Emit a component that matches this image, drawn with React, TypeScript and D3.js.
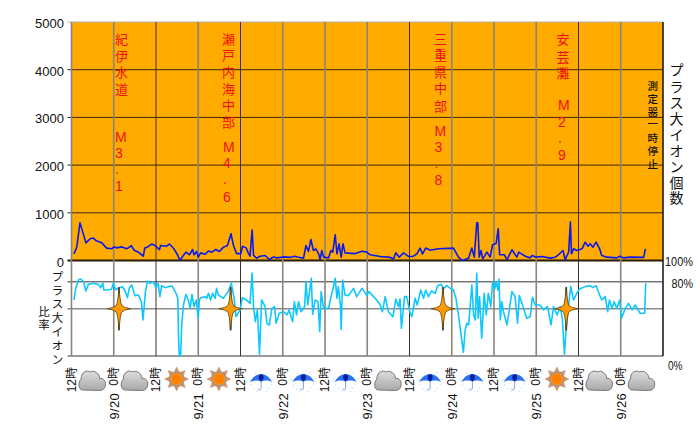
import React from "react";
import * as d3 from "d3";

const ionHours = [0.7,1.5,2.4,3.2,4.1,5.3,6.2,7,8.6,10,11.4,12.1,12.8,14.3,15.7,17,17.8,19,20.4,20.8,21.5,22.8,23.7,25,25.3,27,27.8,29.1,30.1,30.8,31.6,32.5,33.5,34.4,34.8,35.5,36,36.7,37.9,38.9,39.8,41,42,43.1,44.3,45.3,46,46.9,48.1,48.6,49.6,50.2,50.7,51.3,51.7,52.6,53.6,55,56.2,57.4,58.3,60.2,62.1,63.3,64.5,65.9,66.6,67.3,68,68.7,69.4,70.2,70.6,71.1,71.6,73,73.7,74.2,74.9,75.4,76,76.6,77.1,77.7,80.6,82.5,83.9,84.8,87.7,90.5,91.5,92.1,93.1,94.3,95.7,97.1,98.1,99,99.7,100.6,101.9,104.2,108.5,109.9,110.9,111.3,112.8,113.7,114.4,115.1,115.4,115.8,116.3,116.8,118,118.9,119.6,120.6,121.2,121.6,122.9,123.7,125.1,126.5,127,128.9,130.3,130.8,132,133.6,136,137.4,138.3,139.6,140.2,141.2,141.7,142,142.6,143.5,145,145.9,146.7,147.3,148.1,149,150,150.6,152.1,154.9,155.7,156.8,158.7,162.5,163];
const ionValues = [140,280,790,595,370,455,470,415,370,260,245,285,265,285,245,310,215,175,90,260,280,345,315,230,315,300,345,245,120,0,90,175,120,230,120,190,70,160,130,200,175,230,190,275,315,560,315,145,145,300,265,160,90,640,105,50,90,105,20,75,55,75,65,90,70,50,315,190,440,210,245,140,20,210,70,55,210,175,540,140,350,70,350,160,145,195,175,120,85,65,35,160,70,160,85,90,140,260,140,260,215,245,260,70,5,5,50,260,70,790,790,70,210,35,175,70,330,355,665,120,120,20,225,70,175,90,55,105,70,85,50,70,120,210,20,175,805,140,245,210,245,385,300,350,280,385,245,105,70,55,90,55,70,65,245];

const ratioHours = [0.7,1.2,2,2.6,3.4,4.1,4.8,6.2,7.6,8.3,8.9,9.2,10.5,11.4,11.9,12.5,13.3,14.5,15.2,15.9,16.4,17.1,18,19,19.9,20.3,20.6,21,21.6,22.3,23.2,24,24.6,25.1,25.6,26.6,28.5,29.7,30.2,30.4,30.6,31,31.3,31.8,32.5,33.2,33.7,34.2,34.8,35.4,36,36.3,36.7,37.9,38.4,38.9,39.5,40.1,40.8,41.2,41.7,43.1,44.5,45.4,46.2,46.7,47.9,48.5,49.7,50.7,51.3,51.7,52.2,52.8,53.4,54,55,55.5,56.2,56.9,57.7,58.1,59,60.2,61.2,61.8,62.8,63.3,63.9,64.5,65.2,66.2,66.6,67.1,67.5,68.1,68.5,69.2,70,70.5,70.9,71.6,73,73.7,74.2,74.9,75.4,75.8,76.4,76.6,77,77.7,78.7,80.1,81,82.5,83.9,84.5,85.8,86.7,87.7,88.3,89.1,90,91.3,92.1,92.9,93.3,93.7,94.6,95.2,96.2,96.7,97.6,98.2,99.2,100,100.6,101.4,102.2,103.3,104,105,105.7,106.6,107.6,108.5,109.2,110.1,111.3,111.8,112.3,112.8,113.7,114.2,114.7,115.1,115.5,115.9,116.5,117.2,117.8,118.4,119.1,119.6,120.2,120.6,121.1,121.4,121.8,122.2,122.7,123.7,125.1,126,126.7,127.2,128.4,129.3,130.3,130.9,131.7,133.1,134.1,135.2,136.2,136.9,137.9,138.8,139.4,140,140.5,141.2,141.8,142.6,143.5,144.3,145.9,147.3,148.1,149,150,150.6,151.6,152.3,152.8,153.5,154.1,154.9,155.7,156.2,157.3,158.2,159.2,160.1,161.5,162.8,163.1];
const ratioValues = [59.3,71.6,80.8,81.5,78.7,68.8,75.8,76.9,75.8,72.3,76.9,69.8,69.8,70.9,76.9,70.2,71.6,73.4,68.8,61.7,71.6,75.1,63.9,64.6,56.8,38.1,50.4,68.1,79.4,76.9,78.7,72.3,76.9,62.8,74.4,72.3,74.4,66.3,61,20.5,0.4,0.4,32.8,54,65.3,59.3,50.4,65.3,52.2,59.3,39.9,59.3,61.7,62.8,61,66.3,59.3,66.3,61,71.6,64.6,61,68.1,76.9,61,41.6,48.7,61.7,59.3,55.7,87.8,52.2,36.3,48.7,1.8,59.3,52.2,34.6,32.8,50.4,52.2,34.6,45.2,46.9,43.4,48.7,36.3,57.5,43.4,57.5,46.9,52.2,78.7,54,64.6,82.2,44.1,59.3,57.5,25.8,68.1,50.4,50.4,62.8,69.8,82.2,61,73.4,52.2,28.2,80.4,64.6,63.9,71.6,62.8,71.6,63.9,68.1,62.8,59.3,54,46.9,62.8,46.9,41.6,60.3,52.2,60.3,29.3,62.8,62.8,45.2,41.6,61,54,69.8,61,69.8,62.8,68.8,66.3,74.4,75.8,71.6,74.4,71.6,69.8,61,38.1,3.9,27.5,34.6,32.8,75.1,43.4,38.1,87.5,39.9,62.8,18.7,66.3,43.4,66.3,52.2,78.7,70.9,78.7,69.8,81.5,38.1,57.5,46.9,32.8,68.1,62.8,34.6,63.9,50.4,39.9,41.6,62.1,54,54,48.7,52.2,32.8,52.2,43.4,52.2,39.9,1.8,29.3,54,73.4,59.3,66.3,70.9,73.4,74.4,72.3,74.4,64.6,59.3,62.8,46.9,59.3,50.4,57.5,50.4,59.3,39.9,50.4,55.7,48.7,54,45.2,45.2,76.9];

const ionTicks = [0, 1000, 2000, 3000, 4000, 5000];
const ratioGrid = [50, 78.5];
const timeTicks = [0,12,24,36,48,60,72,84,96,108,120,132,144,156,168];
const darkTimes = [24,48,96,144];
const timeLabels = ["12時","0時","12時","0時","12時","0時","12時","0時","12時","0時","12時","0時","12時","0時"];
const dateHours = [12,36,60,84,108,132,156];
const dateLabels = ["9/20","9/21","9/22","9/23","9/24","9/25","9/26"];
const weather = ["cloud","cloud","sun","sun","rain","rain","rain","cloud","rain","rain","rain","sun","cloud","cloud"];
const quakeHours = [13.5,45.2,105.5,140.5];

type Col = { text: string; x: number; ys: number[] };
const placeLabels: Col[] = [
  { text: "紀伊水道", x: 115, ys: [39,56,72.7,89] },
  { text: "瀬戸内海中部", x: 222, ys: [39,55.7,72,89,105.5,122] },
  { text: "三重県中部", x: 434, ys: [39,55.7,72.7,88,106] },
  { text: "安芸灘", x: 556.5, ys: [39,57,73] },
];
const magLabels: Col[] = [
  { text: "M3.1", x: 115, ys: [136.5,152.5,169,186] },
  { text: "M4.6", x: 223, ys: [146.7,162.7,179,196.7] },
  { text: "M3.8", x: 434.5, ys: [130.7,146.7,163,180] },
  { text: "M2.9", x: 558, ys: [105,121.5,138,155] },
];
const stopText = "測定器一時停止";
const stopY = [86,99,111.7,124.3,137.7,151,164];
const axisText = "プラス大イオン個数";
const axisY = [70,86.7,103,119.3,135,150.7,166.7,182.7,198.3];
const ratioText = "プラス大イオン";
const ratioY = [277,290.5,304,317.5,331.7,346,359.5];
const ratioWord = "比率";
const ratioWordY = [311.7,325];

const W = 700, H = 436;
const x = d3.scaleLinear().domain([0,168]).range([71.5,663]);
const yIon = d3.scaleLinear().domain([0,5000]).range([260.5,22]);
const yRatio = d3.scaleLinear().domain([0,100]).range([356,261.5]);
const ionLine = d3.line<number>().x((_,i)=>x(ionHours[i])).y(d=>yIon(d));
const ratioLine = d3.line<number>().x((_,i)=>x(ratioHours[i])).y(d=>yRatio(d));
const SANS = '"Liberation Sans", Arial, sans-serif';
const CJK = '"Liberation Sans", "Noto Sans CJK JP", sans-serif';

function Stack({text,xPos,ys,...rest}:{text:string;xPos:number;ys:number[];[k:string]:any}) {
  return <>{text.split("").map((ch,i)=><text key={i} x={xPos} y={ys[i]} dominantBaseline="central" {...rest}>{ch}</text>)}</>;
}
function Cloud({cx,cy}:{cx:number;cy:number}) {
  return <g transform={`translate(${cx},${cy})`}>
    <path d="M-9,10 C-14.5,10 -14,2 -11,-1 C-11,-9 -4.5,-10 -2,-8 C2,-10.5 8,-6 7.5,-1.5 C11.5,-2.5 14.5,2 13,6.5 C12,10 9,10.5 7,10.5 Z" fill="url(#cg)" stroke="#777" strokeWidth={1}/>
  </g>;
}
function Sun({cx,cy}:{cx:number;cy:number}) {
  const rays = d3.range(8).map(i=>i*45);
  return <g transform={`translate(${cx},${cy})`}>
    {rays.map(a=><path key={a} d="M-3,-6 L0,-12 L3,-6 Z" fill="#ee8a4a" stroke="#a0a0a0" strokeWidth={0.5} transform={`rotate(${a})`}/>)}
    <circle r={7} fill="#ff8c10" stroke="#9a9a9a" strokeWidth={1.5}/>
    <circle r={4.5} fill="#ff8000"/>
  </g>;
}
function Rain({cx,cy}:{cx:number;cy:number}) {
  const drops = [[-10,6],[-7,10],[7,9],[10,5],[-4,12],[5,12.5],[-12,1],[12,0],[-6,-6],[7,-6]];
  return <g transform={`translate(${cx},${cy})`}>
    {drops.map(([a,b],i)=><circle key={i} cx={a} cy={b} r={0.7} fill="#b4dcff"/>)}
    <path d="M0,1 L0,9 C0,11.5 -3,11.5 -3,9.5" fill="none" stroke="#88a0e0" strokeWidth={1}/>
    <path d="M-11,3 C-8,-3 -3,-5 0,-5 C3,-5 8,-3 11,3 C7,1.2 3,1.2 0,2.5 C-3,1.2 -7,1.2 -11,3 Z" fill="#2a70f0"/>
    <path d="M-1.5,-4.5 C-3,-2 -3,0 0,2.5 C3,0 3,-2 1.5,-4.5 Z" fill="#0820a0"/>
  </g>;
}
function Star({cx,cy}:{cx:number;cy:number}) {
  const d = "M0,-21.5 Q1.2,-5 3,-3 Q5,-1 11.7,0 Q5,1 3,3 Q1.2,5 0,21.5 Q-1.2,5 -3,3 Q-5,1 -11.7,0 Q-5,-1 -3,-3 Q-1.2,-5 0,-21.5 Z";
  return <g transform={`translate(${cx},${cy})`}>
    <path d="M0,-21.5 L0,21.5" stroke="#555" strokeWidth={2}/>
    <path d={d} fill="#ff9a00" stroke="#5a4010" strokeWidth={0.8}/>
  </g>;
}

export default function App() {
  return (
    <svg width={W} height={H} viewBox={`0 0 ${W} ${H}`} style={{position:"absolute",left:0,top:0,background:"#fff"}}>
      <defs><linearGradient id="cg" x1="0" y1="0" x2="0" y2="1"><stop offset="0" stopColor="#dddddd"/><stop offset="1" stopColor="#a8a8a8"/></linearGradient></defs>
      <rect x={71.5} y={22} width={591.5} height={238.5} fill="#FFAB00"/>
      {ionTicks.map(t=><line key={t} x1={67.5} x2={663} y1={yIon(t)} y2={yIon(t)} stroke={t===5000?"#b0b0b0":t===0?"#2a1c00":"#3a2800"} strokeWidth={t===0?2:1}/>)}
      <line x1={67.5} x2={663} y1={yRatio(ratioGrid[1])} y2={yRatio(ratioGrid[1])} stroke="#333" strokeWidth={1}/>
      <line x1={67.5} x2={663} y1={yRatio(ratioGrid[0])} y2={yRatio(ratioGrid[0])} stroke="#8a8a8a" strokeWidth={1.5}/>
      <line x1={67.5} x2={663} y1={yRatio(0)} y2={yRatio(0)} stroke="#777" strokeWidth={1.5}/>
      {timeTicks.map(t=>{
        const dark = darkTimes.includes(t);
        const last = t===168;
        return <line key={t} x1={x(t)} x2={x(t)} y1={22} y2={yRatio(0)} stroke={last?"#111":dark?"#3c3020":"#8c8478"} strokeWidth={last?1.5:dark?1:1.6}/>;
      })}
      <path d={ratioLine(ratioValues)!} fill="none" stroke="#0CC8FF" strokeWidth={1.6} strokeLinejoin="round"/>
      <path d={ionLine(ionValues)!} fill="none" stroke="#0A18F0" strokeWidth={1.6} strokeLinejoin="round"/>
      {quakeHours.map(h=><Star key={h} cx={x(h)} cy={yRatio(50)}/>)}
      {ionTicks.map(t=><text key={t} x={64} y={yIon(t)+1.5} textAnchor="end" dominantBaseline="central" fontFamily={SANS} fontSize={13} fill="#111">{t}</text>)}
      <text x={665} y={261} dominantBaseline="central" fontFamily={SANS} fontSize={13} textLength={28} lengthAdjust="spacingAndGlyphs" fill="#111">100%</text>
      <text x={671.5} y={283} dominantBaseline="central" fontFamily={SANS} fontSize={13} textLength={21.5} lengthAdjust="spacingAndGlyphs" fill="#111">80%</text>
      <text x={668} y={365} dominantBaseline="central" fontFamily={SANS} fontSize={13} textLength={14.5} lengthAdjust="spacingAndGlyphs" fill="#111">0%</text>
      {placeLabels.map(c=><Stack key={c.text} text={c.text} xPos={c.x} ys={c.ys} fontFamily={CJK} fontSize={13} fill="#F01010"/>)}
      {magLabels.map(c=><Stack key={c.x} text={c.text} xPos={c.x} ys={c.ys} fontFamily={SANS} fontSize={14} fill="#F01010"/>)}
      <Stack text={stopText} xPos={652.7} ys={stopY} textAnchor="middle" fontFamily={CJK} fontSize={10.5} fontWeight={500} fill="#111"/>
      <Stack text={axisText} xPos={676.5} ys={axisY} textAnchor="middle" fontFamily={CJK} fontSize={14} fill="#111"/>
      <Stack text={ratioText} xPos={57.5} ys={ratioY} textAnchor="middle" fontFamily={CJK} fontSize={11.5} fill="#111"/>
      <Stack text={ratioWord} xPos={44} ys={ratioWordY} textAnchor="middle" fontFamily={CJK} fontSize={11.5} fill="#111"/>
      {timeLabels.map((l,i)=>{
        const px = x(timeTicks[i]);
        return <text key={i} transform={`translate(${px},367) rotate(-90)`} textAnchor="end" dominantBaseline="central" fontFamily={CJK} fontSize={12} fill="#111">{l}</text>;
      })}
      {dateLabels.map((l,i)=><text key={l} transform={`translate(${x(dateHours[i])+0.5},393) rotate(-90)`} textAnchor="end" dominantBaseline="central" fontFamily={SANS} fontSize={13} letterSpacing={0.3} fill="#111">{l}</text>)}
      {weather.map((w,i)=>{
        const cx = x(timeTicks[i]+6)-0.5;
        return w==="cloud"?<Cloud key={i} cx={cx} cy={380}/>:w==="sun"?<Sun key={i} cx={cx} cy={379}/>:<Rain key={i} cx={cx} cy={379}/>;
      })}
    </svg>
  );
}
